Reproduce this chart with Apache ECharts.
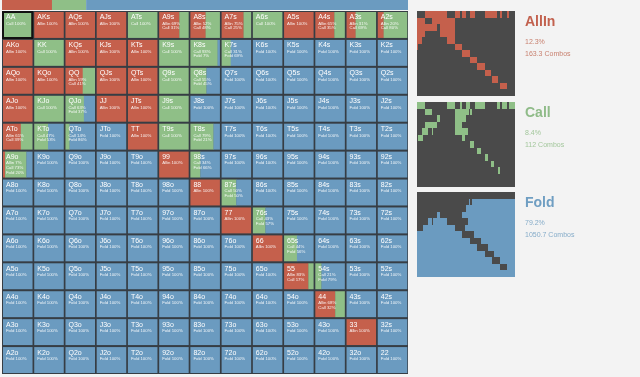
<!DOCTYPE html>
<html>
<head>
<meta charset="utf-8">
<script src="https://cdn.jsdelivr.net/npm/echarts@6/dist/echarts.min.js"></script>
<style>
  html, body { margin: 0; padding: 0; background: #f3f3f3; }
  #range-chart { width: 640px; height: 377px; }
</style>
</head>
<body>
<div id="range-chart"></div>
<script>
// ranks of the 13x13 grid, rows = first card, columns = second card
var ranks = ['A', 'K', 'Q', 'J', 'T', '9', '8', '7', '6', '5', '4', '3', '2'];

// % per hand, row by row
var allinPct = [
  [0, 100, 100, 100, 0, 69, 52, 75, 0, 100, 65, 31, 20],
  [100, 0, 100, 100, 100, 0, 0, 0, 0, 0, 0, 0, 0],
  [100, 100, 59, 100, 100, 0, 0, 0, 0, 0, 0, 0, 0],
  [100, 0, 0, 100, 100, 0, 0, 0, 0, 0, 0, 0, 0],
  [61, 0, 0, 0, 100, 0, 0, 0, 0, 0, 0, 0, 0],
  [7, 0, 0, 0, 0, 100, 0, 0, 0, 0, 0, 0, 0],
  [0, 0, 0, 0, 0, 0, 100, 0, 0, 0, 0, 0, 0],
  [0, 0, 0, 0, 0, 0, 0, 100, 0, 0, 0, 0, 0],
  [0, 0, 0, 0, 0, 0, 0, 0, 100, 0, 0, 0, 0],
  [0, 0, 0, 0, 0, 0, 0, 0, 0, 83, 0, 0, 0],
  [0, 0, 0, 0, 0, 0, 0, 0, 0, 0, 68, 0, 0],
  [0, 0, 0, 0, 0, 0, 0, 0, 0, 0, 0, 100, 0],
  [0, 0, 0, 0, 0, 0, 0, 0, 0, 0, 0, 0, 0]
];
var callPct = [
  [100, 0, 0, 0, 100, 31, 48, 25, 100, 0, 35, 69, 80],
  [0, 100, 0, 0, 0, 100, 93, 31, 0, 0, 0, 0, 0],
  [0, 0, 41, 0, 0, 100, 55, 0, 0, 0, 0, 0, 0],
  [0, 100, 63, 0, 0, 100, 0, 0, 0, 0, 0, 0, 0],
  [39, 47, 14, 0, 0, 100, 79, 0, 0, 0, 0, 0, 0],
  [73, 0, 0, 0, 0, 0, 34, 0, 0, 0, 0, 0, 0],
  [0, 0, 0, 0, 0, 0, 0, 50, 0, 0, 0, 0, 0],
  [0, 0, 0, 0, 0, 0, 0, 0, 43, 0, 0, 0, 0],
  [0, 0, 0, 0, 0, 0, 0, 0, 0, 44, 0, 0, 0],
  [0, 0, 0, 0, 0, 0, 0, 0, 0, 17, 21, 0, 0],
  [0, 0, 0, 0, 0, 0, 0, 0, 0, 0, 32, 0, 0],
  [0, 0, 0, 0, 0, 0, 0, 0, 0, 0, 0, 0, 0],
  [0, 0, 0, 0, 0, 0, 0, 0, 0, 0, 0, 0, 0]
];
var foldPct = [
  [0, 0, 0, 0, 0, 0, 0, 0, 0, 0, 0, 0, 0],
  [0, 0, 0, 0, 0, 0, 7, 69, 100, 100, 100, 100, 100],
  [0, 0, 0, 0, 0, 0, 45, 100, 100, 100, 100, 100, 100],
  [0, 0, 37, 0, 0, 0, 100, 100, 100, 100, 100, 100, 100],
  [0, 53, 86, 100, 0, 0, 21, 100, 100, 100, 100, 100, 100],
  [20, 100, 100, 100, 100, 0, 66, 100, 100, 100, 100, 100, 100],
  [100, 100, 100, 100, 100, 100, 0, 50, 100, 100, 100, 100, 100],
  [100, 100, 100, 100, 100, 100, 100, 0, 57, 100, 100, 100, 100],
  [100, 100, 100, 100, 100, 100, 100, 100, 0, 56, 100, 100, 100],
  [100, 100, 100, 100, 100, 100, 100, 100, 100, 0, 79, 100, 100],
  [100, 100, 100, 100, 100, 100, 100, 100, 100, 100, 0, 100, 100],
  [100, 100, 100, 100, 100, 100, 100, 100, 100, 100, 100, 0, 100],
  [100, 100, 100, 100, 100, 100, 100, 100, 100, 100, 100, 100, 100]
];

// summary
var actionNames = ['AllIn', 'Call', 'Fold'];
var totalPct = [12.3, 8.4, 79.2];
var totalCombos = ['163.3', '112', '1050.7'];
var selectedHand = 'AA';

var colors = ['#c5604c', '#8fbf87', '#6b9bc0'];
var titleColors = ['#c2614e', '#8fbb88', '#6f9ec2'];
var subColors = ['#c8806f', '#a3c79c', '#86acc9'];
var FONT = '"Liberation Sans", Arial, sans-serif';

function handName(i, j) {
  if (i === j) return ranks[i] + ranks[j];
  if (j > i) return ranks[i] + ranks[j] + 's';
  return ranks[j] + ranks[i] + 'o';
}

var cells = [];
var names = [];
for (var i = 0; i < 13; i++) {
  for (var j = 0; j < 13; j++) {
    cells.push([j, i, allinPct[i][j], callPct[i][j], foldPct[i][j]]);
    names.push(handName(i, j));
  }
}

function renderMain(params, api) {
  var c = api.coord([api.value(0), api.value(1)]);
  var s = api.size([1, 1]);
  var x0 = c[0] - s[0] / 2 + 1, y0 = c[1] - s[1] / 2 + 1;
  var w = s[0] - 2, h = s[1] - 2;
  var parts = [api.value(2), api.value(3), api.value(4)];
  var children = [];
  var x = x0;
  var lines = [];
  for (var k = 0; k < 3; k++) {
    if (parts[k] <= 0) continue;
    var pw = w * parts[k] / 100;
    children.push({ type: 'rect', shape: { x: x, y: y0, width: pw + 0.3, height: h }, style: { fill: colors[k] } });
    x += pw;
    lines.push((k === 0 ? 'Allin' : actionNames[k]) + ' ' + parts[k] + '%');
  }
  var name = names[params.dataIndex];
  children.push({ type: 'text', x: x0 + 3, y: y0 + 5.5,
    style: { text: name, fill: '#fff', font: '7px ' + FONT, verticalAlign: 'middle' } });
  for (var m = 0; m < lines.length; m++) {
    children.push({ type: 'text', x: x0 + 3, y: y0 + 11.7 + m * 4.6,
      style: { text: lines[m], fill: 'rgba(255,255,255,0.9)', font: '4.3px ' + FONT, verticalAlign: 'middle' } });
  }
  if (name === selectedHand) {
    children.push({ type: 'rect', shape: { x: x0, y: y0, width: w, height: h },
      style: { fill: 'none', stroke: '#111', lineWidth: 2 } });
  }
  return { type: 'group', children: children };
}

// one action only, drawn at its place inside the cell, no gaps between cells
function renderMini(k) {
  return function (params, api) {
    var pw = api.value(2 + k);
    if (pw <= 0) return null;
    var c = api.coord([api.value(0), api.value(1)]);
    var s = api.size([1, 1]);
    var before = 0;
    for (var q = 0; q < k; q++) before += api.value(2 + q);
    var xa = Math.round(c[0] - s[0] / 2 + s[0] * before / 100);
    var xb = Math.round(c[0] - s[0] / 2 + s[0] * (before + pw) / 100);
    var ya = Math.round(c[1] - s[1] / 2);
    var yb = Math.round(c[1] + s[1] / 2);
    if (xb <= xa) xb = xa + 1;
    return { type: 'rect', shape: { x: xa, y: ya, width: xb - xa, height: yb - ya },
      style: { fill: colors[k] } };
  };
}

var miniTops = [11, 102, 192];
var grids = [
  { left: 2, top: 11, width: 406, height: 363, backgroundColor: '#363d44', show: true, borderWidth: 0 },
  { left: 2, top: 0, width: 406, height: 10 }
];
var xAxes = [
  { gridIndex: 0, type: 'category', data: ranks, show: false },
  { gridIndex: 1, type: 'value', min: 0, max: 99.9, show: false }
];
var yAxes = [
  { gridIndex: 0, type: 'category', data: ranks, inverse: true, show: false },
  { gridIndex: 1, type: 'category', data: ['total'], show: false }
];
var series = [
  { type: 'custom', xAxisIndex: 0, yAxisIndex: 0, renderItem: renderMain, data: cells, silent: true }
];
var graphics = [];
for (var k = 0; k < 3; k++) {
  series.push({ type: 'bar', xAxisIndex: 1, yAxisIndex: 1, stack: 'total', barWidth: '100%',
    data: [totalPct[k]], itemStyle: { color: colors[k] }, silent: true });
  grids.push({ left: 417, top: miniTops[k], width: 98, height: 85, show: true, backgroundColor: '#4a4a4a', borderWidth: 0 });
  xAxes.push({ gridIndex: k + 2, type: 'category', data: ranks, show: false });
  yAxes.push({ gridIndex: k + 2, type: 'category', data: ranks, inverse: true, show: false });
  series.push({ type: 'custom', xAxisIndex: k + 2, yAxisIndex: k + 2, renderItem: renderMini(k), data: cells, silent: true });
  graphics.push(
    { type: 'text', left: 525, top: miniTops[k] + 4, style: { text: actionNames[k], fill: titleColors[k], font: 'bold 14px ' + FONT } },
    { type: 'text', left: 525, top: miniTops[k] + 28, style: { text: totalPct[k] + '%', fill: subColors[k], font: '7px ' + FONT } },
    { type: 'text', left: 525, top: miniTops[k] + 40, style: { text: totalCombos[k] + ' Combos', fill: subColors[k], font: '7px ' + FONT } }
  );
}

var myChart = echarts.init(document.getElementById('range-chart'));
var option = {
  backgroundColor: '#f3f3f3',
  animation: false,
  grid: grids,
  xAxis: xAxes,
  yAxis: yAxes,
  series: series,
  graphic: graphics
};
myChart.setOption(option);
</script>
</body>
</html>
